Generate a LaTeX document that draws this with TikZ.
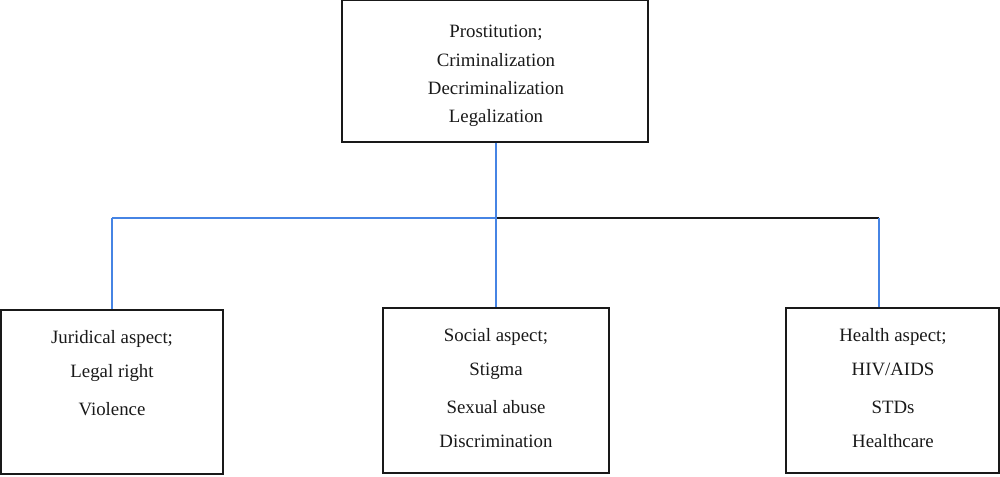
\documentclass[tikz,border=0pt]{standalone}
\usepackage{fontspec}
\setmainfont{Liberation Serif}
\usepackage{tikz}
\definecolor{linkblue}{RGB}{70,132,228}

\begin{document}
\begin{tikzpicture}[x=0.025cm,y=-0.025cm]
    \tikzstyle{box}=[draw=black!90,line width=1.3pt,rectangle,inner sep=0pt]
    \tikzstyle{txt}=[anchor=base,inner sep=0pt,font=\fontsize{13.4}{16}\selectfont,text=black!90]
    \tikzstyle{blueline}=[draw=linkblue,line width=1pt]
    \tikzstyle{blackline}=[draw=black!90,line width=1.3pt]

    \useasboundingbox (0,0) rectangle (1000,477);

    % Draw the boxes
    \node[box,minimum width=7.65cm,minimum height=3.55cm] (prost) at (495,71) {};
    \node[box,minimum width=5.55cm,minimum height=4.1cm] (jur) at (112,392) {};
    \node[box,minimum width=5.65cm,minimum height=4.125cm] (soc) at (496,390.5) {};
    \node[box,minimum width=5.325cm,minimum height=4.125cm] (hea) at (892.5,390.5) {};

    % Write the text of each box, one line at a time
    \foreach \t/\y [count=\i] in {Prostitution;/37.5,Criminalization/66.5,Decriminalization/94.5,Legalization/123}
        \node[txt] (prost-\i) at (496,\y) {\t};
    \foreach \t/\y [count=\i] in {Juridical aspect;/343.5,Legal right/377.5,Violence/416}
        \node[txt] (jur-\i) at (112,\y) {\t};
    \foreach \t/\y [count=\i] in {Social aspect;/341.5,Stigma/376,Sexual abuse/414,Discrimination/447.5}
        \node[txt] (soc-\i) at (496,\y) {\t};
    \foreach \t/\y [count=\i] in {Health aspect;/341.5,{HIV/AIDS}/376,STDs/414,Healthcare/447.5}
        \node[txt] (hea-\i) at (893,\y) {\t};

    % Branch points on the horizontal line
    \coordinate (mid) at (496,218);
    \coordinate (left) at (112,218);
    \coordinate (right) at (879,218);

    % Connect the top box with the three aspects
    \path[blackline] (mid) -- (right);
    \path[blueline] (left) -- (mid);
    \path[blueline] (mid |- prost.south) -- (mid |- soc.north);
    \path[blueline] (left) -- (jur.north);
    \path[blueline] (right) -- (right |- hea.north);

\end{tikzpicture}
\end{document}
